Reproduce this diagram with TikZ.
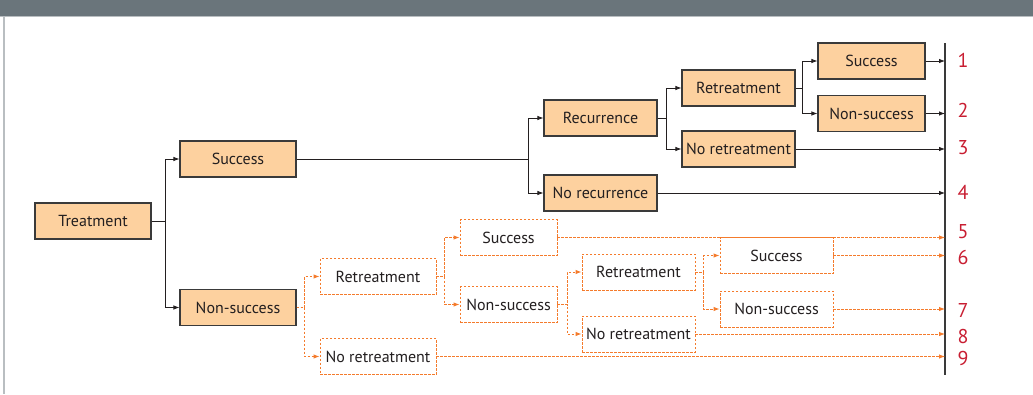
\documentclass[tikz,border=0pt]{standalone}
\usepackage{fontspec}
\setmainfont{PT Sans}
\usepackage{tikz}
\usetikzlibrary{arrows.meta,shapes}
\definecolor{peach}{HTML}{FDD19F}
\definecolor{boxline}{HTML}{3A3A3A}
\definecolor{ink}{HTML}{231F20}
\definecolor{orng}{HTML}{F47B2C}
\definecolor{numred}{HTML}{C81E32}
\definecolor{headgray}{HTML}{6A757B}
\definecolor{headline}{HTML}{B9BEC1}
\tikzstyle{box}=[draw=boxline,fill=peach,line width=1.1pt,minimum height=36pt,inner sep=0pt,text=ink,font=\fontsize{16}{18}\selectfont]
\tikzstyle{obox}=[draw=orng,fill=white,line width=0.9pt,dash pattern=on 2.5pt off 1.5pt,minimum height=36pt,inner sep=0pt,text=ink,font=\fontsize{16}{18}\selectfont]
\tikzstyle{edge} = [draw,-{Latex[length=6pt,width=4.5pt]},line width=0.8pt,ink]
\tikzstyle{oedge} = [draw,-{Latex[length=6pt,width=4.5pt]},line width=0.9pt,orng,dash pattern=on 2.5pt off 1.5pt]
\tikzstyle{num}=[text=numred,font=\fontsize{20}{22}\selectfont,inner sep=0pt]

\begin{document}
\begin{tikzpicture}[x=1pt,y=-1pt]
      \useasboundingbox (0,0) rectangle (1033,394);
      \fill[headgray] (0,0) rectangle (1033,15.5);
      \draw[headline,line width=1.5pt] (0,16.5) -- (1033,16.5);
      \draw[headline,line width=1.5pt] (4,17) -- (4,394);
      \node[box,minimum width=116pt] (treat) at (93,221) {Treatment};
      \node[box,minimum width=116pt] (succ) at (238,159) {Success};
      \node[box,minimum width=116pt] (nsucc) at (238,307.5) {Non-success};
      \node[box,minimum width=113pt] (rec) at (600.5,118) {Recurrence};
      \node[box,minimum width=113pt] (norec) at (600.5,193) {No recurrence};
      \node[box,minimum width=113pt] (ret) at (738.5,88) {Retreatment};
      \node[box,minimum width=113pt] (noret) at (738.5,149) {No retreatment};
      \node[box,minimum width=107pt] (rsucc) at (871.5,61) {Success};
      \node[box,minimum width=107pt] (rnsucc) at (871.5,113.5) {Non-success};
      \node[obox,minimum width=116pt] (ret2) at (378,276.5) {Retreatment};
      \node[obox,minimum width=116pt] (noret2) at (378,356.5) {No retreatment};
      \node[obox,minimum width=97pt] (succ3) at (508.5,237.5) {Success};
      \node[obox,minimum width=97pt] (nsucc3) at (508.5,304.5) {Non-success};
      \node[obox,minimum width=113pt] (ret4) at (638.5,272) {Retreatment};
      \node[obox,minimum width=113pt] (noret4) at (638.5,334) {No retreatment};
      \node[obox,minimum width=113pt] (succ5) at (776.5,255.5) {Success};
      \node[obox,minimum width=113pt] (nsucc5) at (776.5,309) {Non-success};
      \coordinate (bar) at (945,0);
      \coordinate (bartop) at (945,43);
      \coordinate (barbot) at (945,375);
      \draw[boxline,line width=1.5pt] (bartop) -- (barbot);
      \draw[edge] (treat.east) -- ++(14,0) |- (succ.west);
      \draw[edge] (treat.east) -- ++(14,0) |- (nsucc.west);
      \draw[edge] (succ.east) -- ++(232,0) |- (rec.west);
      \draw[edge] (succ.east) -- ++(232,0) |- (norec.west);
      \draw[edge] (rec.east) -- ++(9,0) |- (ret.west);
      \draw[edge] (rec.east) -- ++(9,0) |- (noret.west);
      \draw[edge] (ret.east) -- ++(7,0) |- (rsucc.west);
      \draw[edge] (ret.east) -- ++(7,0) |- (rnsucc.west);
      \draw[oedge] (nsucc.east) -- ++(8,0) |- (ret2.west);
      \draw[oedge] (nsucc.east) -- ++(8,0) |- (noret2.west);
      \draw[oedge] (ret2.east) -- ++(8,0) |- (succ3.west);
      \draw[oedge] (ret2.east) -- ++(8,0) |- (nsucc3.west);
      \draw[oedge] (nsucc3.east) -- ++(10,0) |- (ret4.west);
      \draw[oedge] (nsucc3.east) -- ++(10,0) |- (noret4.west);
      \draw[oedge] (ret4.east) -- ++(8,0) |- (succ5.west);
      \draw[oedge] (ret4.east) -- ++(8,0) |- (nsucc5.west);
      \draw[edge] (rsucc.east) -- (rsucc.east -| bar);
      \draw[edge] (rnsucc.east) -- (rnsucc.east -| bar);
      \draw[edge] (noret.east) -- (noret.east -| bar);
      \draw[edge] (norec.east) -- (norec.east -| bar);
      \draw[oedge] (succ3.east) -- (succ3.east -| bar);
      \draw[oedge] (succ5.east) -- (succ5.east -| bar);
      \draw[oedge] (nsucc5.east) -- (nsucc5.east -| bar);
      \draw[oedge] (noret4.east) -- (noret4.east -| bar);
      \draw[oedge] (noret2.east) -- (noret2.east -| bar);
      \foreach \n/\y in {1/60,2/110,3/148,4/192,5/232,6/257,7/310,8/336,9/358}
        \node[num] (n\n) at (963,\y) {\n};
\end{tikzpicture}
\end{document}
